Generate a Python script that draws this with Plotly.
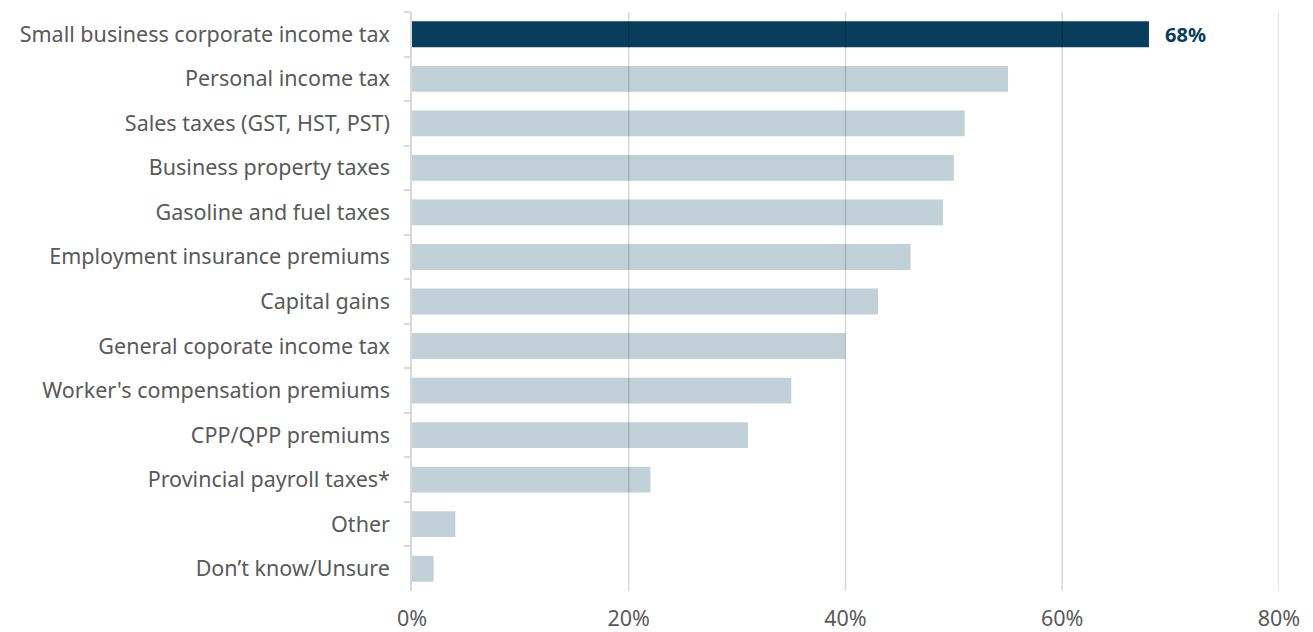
import plotly.graph_objects as go

categories = [
    "Small business corporate income tax",
    "Personal income tax",
    "Sales taxes (GST, HST, PST)",
    "Business property taxes",
    "Gasoline and fuel taxes",
    "Employment insurance premiums",
    "Capital gains",
    "General coporate income tax",
    "Worker's compensation premiums",
    "CPP/QPP premiums",
    "Provincial payroll taxes*",
    "Other",
    "Don\u2019t know/Unsure",
]
values = [68, 55, 51, 50, 49, 46, 43, 40, 35, 31, 22, 4, 2]
tick_vals = [0, 20, 40, 60, 80]
tick_text = ["0%", "20%", "40%", "60%", "80%"]

highlight = "#083D5C"
other = "#C2D0D7"
colors = [highlight if i == 0 else other for i in range(len(values))]

fig = go.Figure(go.Bar(
    x=values, y=categories, orientation="h",
    marker=dict(color=colors, line=dict(width=0)),
    hoverinfo="skip",
))

fig.add_annotation(
    x=values[0], y=categories[0], xref="x", yref="y",
    text=f"{values[0]}%", showarrow=False, xanchor="left", xshift=14,
    font=dict(family="Noto Sans", size=20, color=highlight, weight="bold"),
)

for v in tick_vals[1:]:
    fig.add_shape(type="line", xref="x", yref="paper", x0=v, x1=v, y0=0, y1=1,
                  line=dict(color="rgba(0,0,0,0.15)", width=1.5), layer="above")

fig.update_layout(
    width=1313, height=632,
    margin=dict(l=412, r=34, t=12, b=41),
    plot_bgcolor="white", paper_bgcolor="white",
    bargap=0.42, showlegend=False,
    font=dict(family="Noto Sans", size=21.5, color="#595959"),
)
fig.update_xaxes(
    range=[0, 80], tickvals=tick_vals, ticktext=tick_text,
    showgrid=False, zeroline=False, showline=False,
    ticks="", ticklabelstandoff=12, automargin=False,
    tickfont=dict(size=21.5, color="#595959"),
)
fig.update_yaxes(
    autorange="reversed", showgrid=False, zeroline=False,
    showline=True, linecolor="#D9D9D9", linewidth=1.5,
    ticks="outside", tickson="boundaries", ticklen=6, tickcolor="#D9D9D9", tickwidth=1.5,
    ticklabelstandoff=16, automargin=False,
    tickfont=dict(size=21.5, color="#595959"),
)

fig.write_html("out.html")
